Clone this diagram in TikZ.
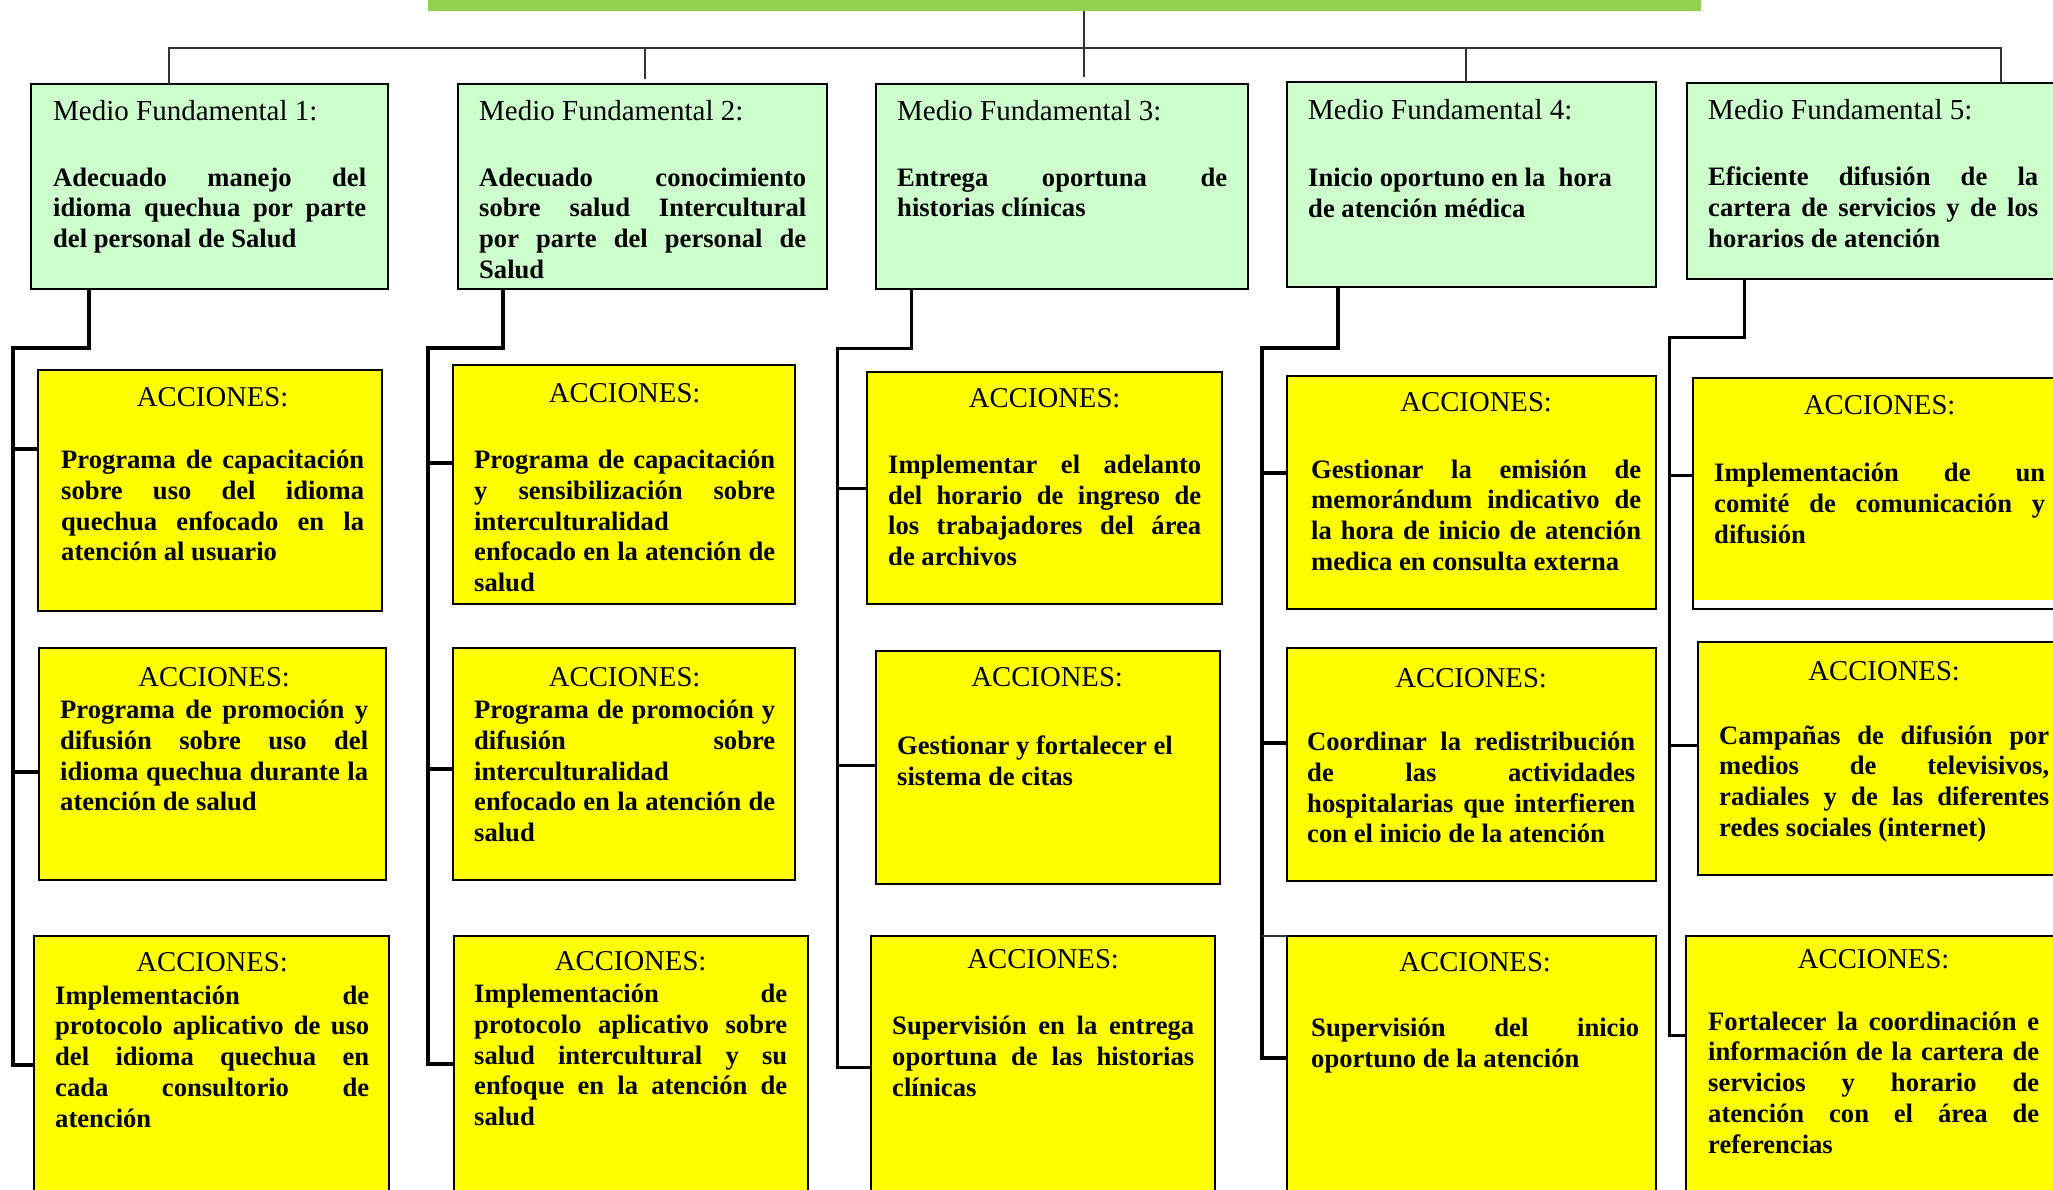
\documentclass[tikz,border=0pt]{standalone}
\usepackage{fontspec}
\setmainfont{Liberation Serif}
\usetikzlibrary{positioning}
\usetikzlibrary{calc}

\definecolor{verdeclaro}{HTML}{CCFFCC}
\definecolor{amarillo}{HTML}{FFFF00}
\definecolor{verdebarra}{HTML}{92D050}

\setlength{\parindent}{0pt}
\tolerance=10000
\hyphenpenalty=10000

\newcommand{\medio}[2]{{\mdseries\fontsize{29}{30.7}\selectfont\rule{0pt}{26pt}#1\par}\vspace{#2}}
\newcommand{\cabecera}[2]{{\centering\mdseries\fontsize{28.7}{30.7}\selectfont\rule{0pt}{26pt}#1\par}\vspace{#2}}

\begin{document}
\begin{tikzpicture}[
    x=1pt, y=-1pt,
    caja/.style={
        draw=black,
        line width=1.4pt,
        anchor=north west,
        inner sep=0pt,
        outer sep=0pt
    },
    verde/.style={caja, fill=verdeclaro},
    amarilla/.style={caja, fill=amarillo},
    barra/.style={
        fill=verdebarra,
        anchor=south west,
        inner sep=0pt,
        minimum width=1273pt,
        minimum height=40pt
    },
    texto/.style={
        inner sep=0pt,
        align=justify,
        font=\fontsize{26.6}{30.7}\selectfont\bfseries
    },
    fina/.style={draw=black!80, line width=1.5pt},
    gruesa/.style={draw=black, line width=4.3pt},
    media/.style={draw=black, line width=3pt}
]

\useasboundingbox (0,0) rectangle (2053,1189);
\clip (0,0) rectangle (2053,1189);

% barra superior
\node[barra] (meta) at (428,10.7) {};

% medios fundamentales
\node[verde, minimum width=357pt, minimum height=205pt] (mf1) at (31,84) {};
\node[verde, minimum width=369pt, minimum height=205pt] (mf2) at (458,84) {};
\node[verde, minimum width=372pt, minimum height=205pt] (mf3) at (876,84) {};
\node[verde, minimum width=369pt, minimum height=205pt] (mf4) at (1287,82) {};
\node[verde, minimum width=380pt, minimum height=196pt] (mf5) at (1687,83) {};

\node[texto, text width=313pt, below right=10pt and 22pt of mf1.north west] (mf1t)
    {\medio{Medio Fundamental 1:}{35.3pt}Adecuado manejo del\linebreak
     idioma quechua por parte\linebreak
     del personal de Salud};
\node[texto, text width=327pt, below right=10pt and 21pt of mf2.north west] (mf2t)
    {\medio{Medio Fundamental 2:}{35.3pt}Adecuado conocimiento\linebreak
     sobre salud Intercultural\linebreak
     por parte del personal de\linebreak
     Salud};
\node[texto, text width=330pt, below right=10pt and 21pt of mf3.north west] (mf3t)
    {\medio{Medio Fundamental 3:}{35.3pt}Entrega oportuna de\linebreak
     historias clínicas};
\node[texto, text width=327pt, below right=11.6pt and 21pt of mf4.north west] (mf4t)
    {\medio{Medio Fundamental 4:}{36pt}Inicio oportuno en la\ \ hora\\
     de atención médica};
\node[texto, text width=330pt, below right=10pt and 21pt of mf5.north west] (mf5t)
    {\medio{Medio Fundamental 5:}{36pt}Eficiente difusión de la\linebreak
     cartera de servicios y de los\linebreak
     horarios de atención};

% acciones, columna 1
\node[amarilla, minimum width=344pt, minimum height=241pt] (acc1a) at (38,370) {};
\node[amarilla, minimum width=347pt, minimum height=232pt] (acc1b) at (39,648) {};
\node[amarilla, minimum width=355pt, minimum height=280pt] (acc1c) at (34,936) {};
\node[texto, text width=303pt, below right=10.5pt and 23pt of acc1a.north west] (acc1at)
    {\cabecera{ACCIONES:}{31.3pt}Programa de capacitación\linebreak
     sobre uso del idioma\linebreak
     quechua enfocado en la\linebreak
     atención al usuario};
\node[texto, text width=308pt, below right=12pt and 21pt of acc1b.north west] (acc1bt)
    {\cabecera{ACCIONES:}{1.8pt}Programa de promoción y\linebreak
     difusión sobre uso del\linebreak
     idioma quechua durante la\linebreak
     atención de salud};
\node[texto, text width=314pt, below right=9.7pt and 21pt of acc1c.north west] (acc1ct)
    {\cabecera{ACCIONES:}{1.6pt}Implementación de\linebreak
     protocolo aplicativo de uso\linebreak
     del idioma quechua en\linebreak
     cada consultorio de\linebreak
     atención};

% acciones, columna 2
\node[amarilla, minimum width=342pt, minimum height=239pt] (acc2a) at (453,365) {};
\node[amarilla, minimum width=342pt, minimum height=232pt] (acc2b) at (453,648) {};
\node[amarilla, minimum width=354pt, minimum height=280pt] (acc2c) at (454,936) {};
\node[texto, text width=301pt, below right=10.8pt and 21pt of acc2a.north west] (acc2at)
    {\cabecera{ACCIONES:}{36pt}Programa de capacitación\linebreak
     y sensibilización sobre\linebreak
     interculturalidad\linebreak
     enfocado en la atención de\linebreak
     salud};
\node[texto, text width=301pt, below right=12pt and 21pt of acc2b.north west] (acc2bt)
    {\cabecera{ACCIONES:}{1.8pt}Programa de promoción y\linebreak
     difusión sobre\linebreak
     interculturalidad\linebreak
     enfocado en la atención de\linebreak
     salud};
\node[texto, text width=313pt, below right=8.5pt and 20pt of acc2c.north west] (acc2ct)
    {\cabecera{ACCIONES:}{1.3pt}Implementación de\linebreak
     protocolo aplicativo sobre\linebreak
     salud intercultural y su\linebreak
     enfoque en la atención de\linebreak
     salud};

% acciones, columna 3
\node[amarilla, minimum width=355pt, minimum height=232pt] (acc3a) at (867,372) {};
\node[amarilla, minimum width=344pt, minimum height=233pt] (acc3b) at (876,651) {};
\node[amarilla, minimum width=344pt, minimum height=280pt] (acc3c) at (871,936) {};
\node[texto, text width=313pt, below right=9.7pt and 21pt of acc3a.north west] (acc3at)
    {\cabecera{ACCIONES:}{34.9pt}Implementar el adelanto\linebreak
     del horario de ingreso de\linebreak
     los trabajadores del área\linebreak
     de archivos};
\node[texto, text width=300pt, below right=9.5pt and 21pt of acc3b.north west] (acc3bt)
    {\cabecera{ACCIONES:}{37.3pt}Gestionar y fortalecer el\\
     sistema de citas};
\node[texto, text width=302pt, below right=5.8pt and 21pt of acc3c.north west] (acc3ct)
    {\cabecera{ACCIONES:}{36pt}Supervisión en la entrega\linebreak
     oportuna de las historias\linebreak
     clínicas};

% acciones, columna 4
\node[amarilla, minimum width=369pt, minimum height=233pt] (acc4a) at (1287,376) {};
\node[amarilla, minimum width=369pt, minimum height=233pt] (acc4b) at (1287,648) {};
\node[amarilla, minimum width=369pt, minimum height=280pt] (acc4c) at (1287,936) {};
\node[texto, text width=330pt, below right=9.5pt and 24pt of acc4a.north west] (acc4at)
    {\cabecera{ACCIONES:}{35.8pt}Gestionar la emisión de\linebreak
     memorándum indicativo de\linebreak
     la hora de inicio de atención\linebreak
     medica en consulta externa};
\node[texto, text width=328pt, below right=12.8pt and 20pt of acc4b.north west] (acc4bt)
    {\cabecera{ACCIONES:}{33pt}Coordinar la redistribución\linebreak
     de las actividades\linebreak
     hospitalarias que interfieren\linebreak
     con el inicio de la atención};
\node[texto, text width=328pt, below right=9.5pt and 24pt of acc4c.north west] (acc4ct)
    {\cabecera{ACCIONES:}{34.3pt}Supervisión del inicio\linebreak
     oportuno de la atención};

% acciones, columna 5
\node[amarilla, minimum width=380pt, minimum height=231pt,
    path picture={\fill[white] (path picture bounding box.south west)
        rectangle ([yshift=9pt]path picture bounding box.south east);}] (acc5a) at (1693,378) {};
\node[amarilla, minimum width=380pt, minimum height=233pt] (acc5b) at (1698,642) {};
\node[amarilla, minimum width=380pt, minimum height=280pt] (acc5c) at (1686,936) {};
\node[texto, text width=331pt, below right=10.5pt and 21pt of acc5a.north west] (acc5at)
    {\cabecera{ACCIONES:}{36.3pt}Implementación de un\linebreak
     comité de comunicación y\linebreak
     difusión};
\node[texto, text width=330pt, below right=12pt and 21pt of acc5b.north west] (acc5bt)
    {\cabecera{ACCIONES:}{33.3pt}Campañas de difusión por\linebreak
     medios de televisivos,\linebreak
     radiales y de las diferentes\linebreak
     redes sociales (internet)};
\node[texto, text width=331pt, below right=6pt and 22pt of acc5c.north west] (acc5ct)
    {\cabecera{ACCIONES:}{31.3pt}Fortalecer la coordinación e\linebreak
     información de la cartera de\linebreak
     servicios y horario de\linebreak
     atención con el área de\linebreak
     referencias};

% lineas superiores
\coordinate (t1) at (169,48);
\coordinate (t2) at (645,48);
\coordinate (t3) at (1084,48);
\coordinate (t4) at (1466,48);
\coordinate (t5) at (2001,48);
\coordinate (t2e) at (645,79);
\coordinate (t3e) at (1084,77);
\draw[fina] (mf1.north -| t1) -- (t1) -- (t5) -- (mf5.north -| t5);
\draw[fina] (meta.south -| t3) -- (t3e);
\draw[fina] (t2) -- (t2e);
\draw[fina] (t4) -- (mf4.north -| t4);

% conectores columna 1
\coordinate (q1) at (89,348);
\coordinate (k1) at (13,348);
\coordinate (r1a) at ($(acc1a.north west)+(0,79)$);
\coordinate (r1b) at ($(acc1b.north west)+(0,124)$);
\coordinate (r1c) at ($(acc1c.north west)+(0,129)$);
\draw[gruesa] (mf1.south -| q1) -- (q1) -- (k1) |- (r1c);
\draw[gruesa] (k1 |- r1a) -- (r1a);
\draw[gruesa] (k1 |- r1b) -- (r1b);

% conectores columna 2
\coordinate (q2) at (503,348);
\coordinate (k2) at (428,348);
\coordinate (r2a) at ($(acc2a.north west)+(0,98)$);
\coordinate (r2b) at ($(acc2b.north west)+(0,121)$);
\coordinate (r2c) at ($(acc2c.north west)+(0,128)$);
\draw[gruesa] (mf2.south -| q2) -- (q2) -- (k2) |- (r2c);
\draw[gruesa] (k2 |- r2a) -- (r2a);
\draw[gruesa] (k2 |- r2b) -- (r2b);

% conectores columna 3
\coordinate (q3) at (911,348);
\coordinate (k3) at (837,348);
\coordinate (r3a) at ($(acc3a.north west)+(0,116)$);
\coordinate (r3b) at ($(acc3b.north west)+(0,114)$);
\coordinate (r3c) at ($(acc3c.north west)+(0,131)$);
\draw[media] (mf3.south -| q3) -- (q3) -- (k3) |- (r3c);
\draw[media] (k3 |- r3a) -- (r3a);
\draw[media] (k3 |- r3b) -- (r3b);

% conectores columna 4
\coordinate (q4) at (1338,348);
\coordinate (k4) at (1262,348);
\coordinate (r4a) at ($(acc4a.north west)+(0,97)$);
\coordinate (r4b) at ($(acc4b.north west)+(0,95)$);
\coordinate (r4c) at ($(acc4c.north west)+(0,122)$);
\draw[gruesa] (mf4.south -| q4) -- (q4) -- (k4) |- (r4c);
\draw[gruesa] (k4 |- r4a) -- (r4a);
\draw[gruesa] (k4 |- r4b) -- (r4b);
\draw[fina] (k4 |- acc4c.north west) -- (acc4c.north west);

% conectores columna 5
\coordinate (q5) at (1744,337);
\coordinate (k5) at (1669,337);
\coordinate (r5a) at ($(acc5a.north west)+(0,97)$);
\coordinate (r5b) at ($(acc5b.north west)+(0,103)$);
\coordinate (r5c) at ($(acc5c.north west)+(0,99)$);
\draw[media] (mf5.south -| q5) -- (q5) -- (k5) |- (r5c);
\draw[media] (k5 |- r5a) -- (r5a);
\draw[media] (k5 |- r5b) -- (r5b);

\end{tikzpicture}
\end{document}
